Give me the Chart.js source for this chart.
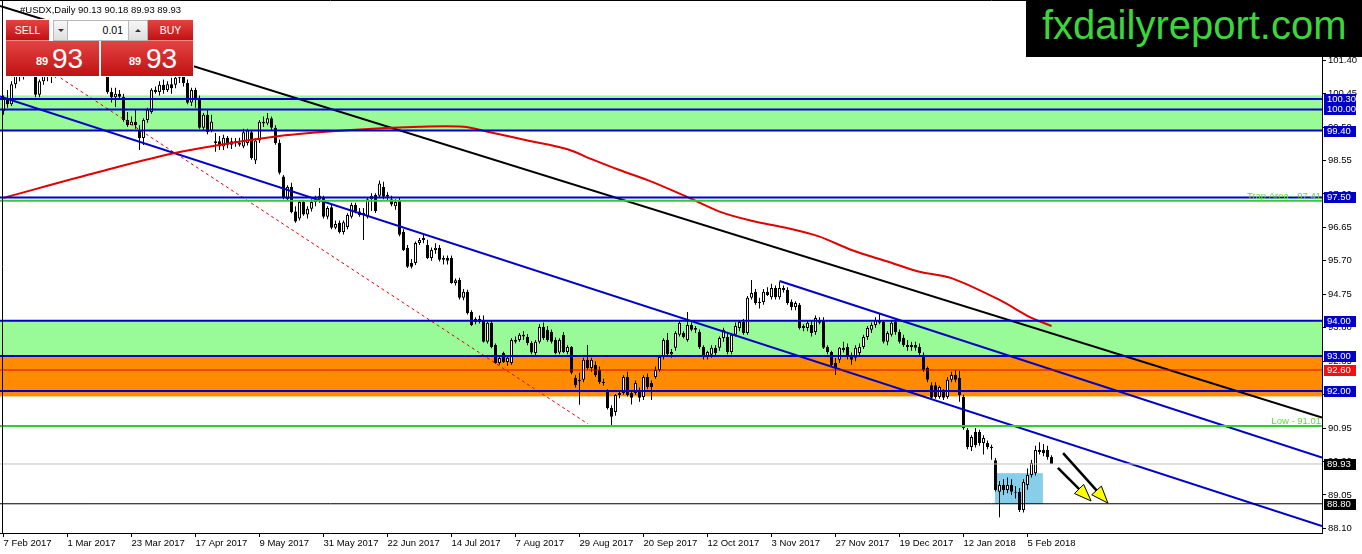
<!DOCTYPE html>
<html>
<head>
<meta charset="utf-8">
<script src="https://cdn.jsdelivr.net/npm/chart.js@4.4.1/dist/chart.umd.min.js"></script>
<style>
body{margin:0;background:#fff;overflow:hidden}
#wrap{position:relative;width:1362px;height:554px}
canvas{position:absolute;left:0;top:0}
.ov{position:absolute;font-family:'Liberation Sans',Arial,sans-serif;box-sizing:border-box}
#title{left:20px;top:4px;font-size:9.5px;line-height:11px;color:#000;white-space:pre}
#panelbg{left:5px;top:19px;width:189px;height:58px;background:#fff}
.red{background:linear-gradient(#e44343,#c01212);color:#fff}
#sell,#buy{top:20px;height:21px;font-size:10.5px;line-height:21px;text-align:center;border-bottom:1px solid rgba(255,255,255,.35)}
#sell{left:6px;width:43px}
#buy{left:148px;width:45px}
.arr{top:20px;height:21px;background:linear-gradient(#f7f7f7,#dedede);border:1px solid #b8b8b8}
#dn{left:53px;width:15px}
#up{left:128px;width:20px}
.tri{position:absolute;left:50%;top:8px;margin-left:-3px;width:0;height:0;border-left:3px solid transparent;border-right:3px solid transparent}
#dn .tri{border-top:3px solid #333}
#up .tri{border-bottom:3px solid #333}
#lot{left:68px;top:20px;width:60px;height:21px;background:#fff;border-top:1px solid #b8b8b8;border-bottom:1px solid #b8b8b8;font-size:10.5px;line-height:19px;text-align:right;padding-right:5px;color:#000}
.big{top:41px;height:35px}
#bl{left:6px;width:93px}
#br{left:101px;width:92px}
.s{position:absolute;top:15px;font-size:11px;line-height:11px;font-weight:bold}
.b{position:absolute;top:4px;font-size:28px;line-height:28px}
#logo{left:1026px;top:0;width:336px;height:57px;background:#000}
#logo span{position:absolute;left:16px;top:5px;font-size:40px;line-height:40px;color:#3cd63c;white-space:nowrap}
</style>
</head>
<body>
<div id="wrap">
<canvas id="c" width="1362" height="554"></canvas>
<div id="title" class="ov">#USDX,Daily 90.13 90.18 89.93 89.93</div>
<div id="panelbg" class="ov"></div>
<div id="sell" class="ov red">SELL</div>
<div id="dn" class="ov arr"><div class="tri"></div></div>
<div id="lot" class="ov">0.01</div>
<div id="up" class="ov arr"><div class="tri"></div></div>
<div id="buy" class="ov red">BUY</div>
<div id="bl" class="ov red big"><span class="s" style="left:30px">89</span><span class="b" style="left:46px">93</span></div>
<div id="br" class="ov red big"><span class="s" style="left:28px">89</span><span class="b" style="left:45px">93</span></div>
<div id="logo" class="ov"><span>fxdailyreport.com</span></div>
</div>
<script>
// ---- tick labels ----
const xTickIdx = [0,16,32,48,64,80,96,112,128,144,160,176,192,208,224,240,256];
const xTickLabels = ['7 Feb 2017','1 Mar 2017','23 Mar 2017','17 Apr 2017','9 May 2017','31 May 2017','22 Jun 2017','14 Jul 2017','7 Aug 2017','29 Aug 2017','20 Sep 2017','12 Oct 2017','3 Nov 2017','27 Nov 2017','19 Dec 2017','12 Jan 2018','5 Feb 2018'];
const yTickValues = [88.10,89.05,90.00,90.95,91.90,92.85,93.80,94.75,95.70,96.65,97.60,98.55,99.50,100.45,101.40,102.35];

// ---- daily OHLC (bar index 0 = 7 Feb 2017) ----
const opens = [
99.95,100.30,100.15,100.72,100.95,101.05,101.20,101.30,101.10,100.42,
100.80,101.10,100.95,101.18,101.50,101.45,101.85,102.05,101.95,101.55,
101.70,101.85,101.75,102.05,101.80,101.70,101.30,100.50,100.35,100.45,
100.36,99.70,99.56,99.65,99.42,99.19,99.70,99.93,100.56,100.50,
100.70,100.55,100.72,100.70,100.90,101.05,100.75,100.20,100.55,100.30,
99.48,99.85,99.40,99.05,99.10,98.95,99.20,99.00,99.10,99.05,
98.95,99.05,99.35,98.55,99.12,99.65,99.60,99.75,99.48,99.05,
98.10,97.45,97.80,97.10,96.90,97.37,97.02,97.18,97.37,97.45,
97.50,96.95,97.22,96.64,96.78,96.52,96.66,96.95,97.29,97.10,
97.00,96.95,97.45,97.57,97.55,97.80,97.52,97.45,97.25,97.43,
96.52,96.07,95.64,95.64,96.21,96.29,96.15,95.78,96.01,96.07,
95.73,95.78,95.78,95.07,95.16,94.65,94.82,94.25,93.96,94.05,
94.02,93.40,93.94,93.31,92.80,93.08,92.83,92.80,93.45,93.45,
93.60,93.54,93.37,93.08,93.40,93.82,93.74,93.68,93.45,93.10,
93.60,93.11,93.25,92.37,92.32,92.32,92.89,92.66,92.74,92.60,
92.26,91.98,91.52,91.41,91.89,91.95,92.40,91.95,91.95,91.98,
91.83,92.40,92.23,92.40,92.60,92.97,93.45,93.05,93.23,93.60,
93.65,93.45,93.88,93.74,93.68,93.25,92.97,93.03,93.23,93.23,
93.51,93.54,93.11,93.60,93.79,93.96,93.65,94.65,94.82,94.50,
94.53,94.82,94.67,94.93,94.67,94.93,94.87,94.53,94.39,94.45,
93.79,93.79,93.88,93.68,94.02,94.02,93.25,93.11,92.80,92.89,
93.23,93.25,93.03,92.95,93.08,93.25,93.54,93.74,93.88,94.02,
93.96,93.40,93.60,93.96,93.68,93.51,93.31,93.25,93.31,93.25,
93.03,92.66,92.17,92.17,91.83,91.98,91.83,92.32,92.46,92.37,
91.83,90.90,90.41,90.84,90.84,90.53,90.53,90.41,90.04,89.14,
89.33,89.19,89.33,89.14,89.14,88.62,89.33,89.62,89.67,90.33,
90.33,90.33,90.13];
const highs = [
100.40,100.55,100.80,101.10,101.25,101.35,101.40,101.50,101.25,100.85,
101.20,101.30,101.25,101.60,101.80,101.95,102.20,102.26,102.05,101.80,
102.00,102.10,102.20,102.15,101.95,101.85,101.40,100.62,100.62,100.55,
100.45,99.93,99.80,100.00,99.55,99.75,100.05,100.60,100.65,100.80,
100.85,100.80,100.90,101.00,101.20,101.15,100.85,100.62,100.62,100.40,
99.90,99.99,99.85,99.33,99.25,99.28,99.25,99.20,99.19,99.20,
99.45,99.45,99.40,99.18,99.70,99.80,99.90,99.80,99.55,99.15,
98.14,97.85,97.92,97.25,97.40,97.40,97.25,97.45,97.55,97.77,
97.55,97.25,97.30,96.85,96.85,96.85,97.05,97.35,97.35,97.20,
97.20,97.50,97.62,97.62,97.98,97.95,97.65,97.55,97.45,97.50,
96.60,96.15,95.75,96.25,96.35,96.45,96.30,96.08,96.20,96.15,
95.85,95.85,95.85,95.20,95.22,94.90,94.88,94.30,94.10,94.15,
94.15,93.98,94.02,93.35,93.00,93.12,92.97,93.50,93.55,93.65,
93.70,93.62,93.42,93.45,93.90,93.95,93.85,93.75,93.52,93.50,
93.68,93.30,93.28,92.45,92.52,92.95,93.31,92.95,92.85,92.70,
92.35,92.05,91.60,91.92,92.00,92.45,92.55,92.02,92.30,92.10,
92.45,92.50,92.30,92.70,93.00,93.50,93.65,93.20,93.70,94.00,
93.70,94.25,93.95,93.85,93.75,93.30,93.15,93.30,93.30,93.55,
93.80,93.65,93.65,93.95,94.02,94.05,94.70,95.16,94.90,94.65,
94.90,94.95,95.05,95.00,95.10,95.00,94.95,94.60,94.55,94.50,
93.90,94.00,94.00,94.15,94.10,94.10,93.30,93.15,92.94,93.25,
93.40,93.35,93.10,93.30,93.35,93.60,93.85,93.95,94.10,94.20,
94.02,93.70,94.00,94.05,93.75,93.60,93.45,93.40,93.40,93.35,
93.10,92.70,92.25,92.25,92.15,92.05,92.40,92.55,92.60,92.58,
91.90,90.95,90.75,90.95,90.90,90.75,90.60,90.48,90.10,89.45,
89.50,89.55,89.50,89.30,89.25,89.50,89.80,90.05,90.45,90.55,
90.50,90.45,90.18];
const lows = [
99.85,100.05,100.10,100.60,100.80,100.85,101.00,101.05,100.35,100.35,
100.70,100.80,100.75,100.90,101.30,101.40,101.70,101.80,101.40,101.25,
101.55,101.60,101.65,101.70,101.45,101.20,100.45,100.20,100.07,100.30,
99.65,99.50,99.55,99.45,98.85,98.99,99.62,99.88,100.45,100.40,
100.45,100.50,100.45,100.60,100.75,100.65,100.15,100.10,100.05,99.45,
99.40,99.30,99.35,98.80,98.85,98.85,98.90,98.88,98.94,98.95,
98.90,98.98,98.57,98.45,99.05,99.50,99.55,99.40,99.00,98.15,
97.45,97.40,97.05,96.78,96.85,96.98,96.90,97.10,97.25,97.35,
96.90,96.88,96.60,96.60,96.48,96.45,96.60,96.90,97.05,96.95,
96.29,96.90,97.12,97.06,97.50,97.45,97.40,97.25,97.15,96.40,
95.98,95.50,95.48,95.58,96.15,96.20,95.75,95.70,95.90,95.68,
95.60,95.60,95.05,95.00,94.60,94.58,94.18,93.85,93.90,93.92,
93.38,93.35,93.22,92.78,92.75,92.80,92.72,92.75,93.35,93.40,
93.45,93.30,93.05,93.02,93.35,93.45,93.40,93.35,93.05,93.05,
93.08,93.05,92.48,92.10,91.61,92.25,92.60,92.55,92.40,92.20,
92.15,91.48,91.01,91.30,91.80,91.90,91.85,91.62,91.90,91.70,
91.75,92.05,91.75,92.35,92.55,92.90,93.00,92.95,93.15,93.55,
93.50,93.40,93.70,93.65,93.20,92.90,92.90,92.95,93.00,93.15,
93.40,93.05,93.05,93.55,93.70,93.60,93.60,94.60,94.45,94.35,
94.45,94.70,94.60,94.60,94.60,94.80,94.45,94.30,94.30,93.75,
93.70,93.70,93.55,93.60,93.90,93.20,93.05,92.70,92.46,92.80,
93.10,92.90,92.75,92.85,93.00,93.20,93.45,93.65,93.80,93.90,
93.35,93.30,93.55,93.60,93.35,93.25,93.15,93.15,93.15,93.00,
92.55,92.25,91.75,91.78,91.78,91.75,91.78,92.25,92.25,91.70,
90.90,90.35,90.30,90.40,90.45,90.20,90.35,90.05,89.15,88.42,
89.05,89.10,89.05,88.95,88.57,88.55,89.20,89.55,89.60,90.20,
90.15,90.05,89.93];
const closes = [
100.30,100.15,100.72,100.95,101.05,101.20,101.30,101.15,100.42,100.80,
101.10,100.95,101.18,101.50,101.45,101.85,102.05,101.95,101.55,101.70,
101.85,101.75,102.05,101.80,101.70,101.30,100.50,100.35,100.45,100.36,
99.70,99.56,99.65,99.55,99.19,99.70,99.99,100.56,100.50,100.70,
100.55,100.72,100.60,100.90,101.05,100.75,100.19,100.55,100.30,99.48,
99.85,99.36,99.65,99.10,98.95,99.20,99.00,99.10,99.05,99.00,
99.35,99.40,98.62,99.12,99.65,99.60,99.75,99.48,99.05,98.20,
97.50,97.80,97.09,96.82,97.37,97.02,97.18,97.37,97.45,97.55,
96.95,97.20,96.64,96.75,96.52,96.80,97.00,97.29,97.10,97.00,
97.06,97.45,97.55,97.12,97.90,97.52,97.57,97.30,97.37,96.44,
96.01,95.53,95.53,96.21,96.29,96.35,95.78,96.01,96.07,95.73,
95.78,95.70,95.07,95.15,94.65,94.82,94.22,93.88,94.05,93.96,
93.40,93.94,93.25,92.80,92.94,92.83,92.95,93.45,93.40,93.60,
93.55,93.37,93.10,93.40,93.82,93.51,93.45,93.40,93.08,93.45,
93.11,93.25,92.52,92.17,92.28,92.89,92.66,92.89,92.46,92.26,
92.23,91.52,91.27,91.89,91.95,92.40,91.89,91.81,92.23,91.81,
92.40,92.12,92.12,92.60,92.97,93.45,93.05,93.11,93.65,93.94,
93.54,93.88,93.74,93.79,93.25,92.97,93.11,93.23,93.08,93.51,
93.74,93.11,93.60,93.85,93.96,93.65,94.65,94.79,94.50,94.53,
94.82,94.73,94.93,94.67,94.93,94.87,94.50,94.39,94.50,93.79,
93.85,93.94,93.65,94.08,93.94,93.23,93.11,92.74,92.66,93.23,
93.17,92.97,92.89,93.23,93.25,93.54,93.79,93.88,94.02,93.94,
93.40,93.65,93.94,93.68,93.40,93.31,93.25,93.31,93.23,93.08,
92.60,92.32,91.81,91.83,92.12,91.81,92.32,92.46,92.32,91.89,
90.95,90.41,90.70,90.47,90.53,90.67,90.41,90.38,89.19,89.33,
89.19,89.33,89.14,89.11,88.62,89.42,89.62,89.96,90.33,90.27,
90.24,90.13,89.93];

// ---- moving average (sampled) ----
const maIdx = [0,24,44,69,87,104,115,121,131,141,147,154,162,171,179,187,196,204,212,221,229,237,249,257,262];
const maVal = [97.49,98.23,98.79,99.25,99.42,99.51,99.51,99.37,99.12,98.87,98.59,98.28,97.95,97.51,97.10,96.84,96.63,96.39,96.01,95.68,95.39,95.21,94.59,94.08,93.85];

// ---- levels & zones ----
const blueLevels = [100.30,100.00,99.40,97.50,94.00,93.00,92.00];
const redLevel = 92.60;
const greenLevels = [97.41,91.01];
const greenLabels = ['Trap Area - 97.41','Low - 91.01'];
const currentPrice = 89.93;
const supportLevel = 88.80;
const zoneLow = [99.40,93.00,91.85];
const zoneHigh = [100.40,94.00,93.00];
const boxIdx = [247.85,259.85];
const boxVal = [88.80,89.67];

// ---- trend lines: black, blue lower, blue upper, red dashed ----
const trendFromIdx = [-0.875,-0.875,194,13];
const trendFromVal = [102.94,100.37,95.13,100.99];
const trendToIdx = [329.625,329.625,329.625,146.1];
const trendToVal = [91.25,88.17,90.11,91.07];

// ---- arrows ----
const arrowFromIdx = [264.9,263.6];
const arrowFromVal = [90.24,89.82];
const arrowToIdx = [276.1,271.9];
const arrowToVal = [88.82,88.88];

const X_MIN = -0.875, X_MAX = 329.625, Y_MIN = 87.97, Y_MAX = 103.11;
const BLUE = '#0000c8';
const FONT = "'Liberation Sans', Arial, sans-serif";

const wickData = opens.map((o,i)=>({x:i, y:[lows[i], highs[i]]}));
const bodyData = opens.map((o,i)=>({x:i, y:[o, closes[i]]}));

function hline(v, color, width){
  return {type:'line', data:[{x:X_MIN,y:v},{x:X_MAX,y:v}], borderColor:color, borderWidth:width, pointRadius:0, fill:false, order:0};
}
const datasets = [
  {type:'bar', data:wickData, backgroundColor:'#000', borderWidth:0, barThickness:1, grouped:false, order:3, inflateAmount:0},
  {type:'bar', data:bodyData, backgroundColor:(c)=> (c.dataIndex!==undefined && closes[c.dataIndex] >= opens[c.dataIndex]) ? '#ffffff' : '#000000',
   borderColor:'#000', borderWidth:1, borderSkipped:false, barThickness:3, minBarLength:1, grouped:false, order:2, inflateAmount:0}
];
datasets.push(hline(currentPrice,'#c0c0c0',1));
datasets.push(hline(supportLevel,'#000',1));
datasets.push(hline(redLevel,'#e00000',1));
greenLevels.forEach(v=>datasets.push(hline(v,'#32cd32',2)));
blueLevels.forEach(v=>datasets.push(hline(v,BLUE,2)));
datasets.push({type:'line', data:maIdx.map((ix,k)=>({x:ix,y:maVal[k]})), borderColor:'#e00000', borderWidth:2, pointRadius:0, fill:false, tension:0.3, order:0});
const trendStyles = [{c:'#000',w:2},{c:BLUE,w:2},{c:BLUE,w:2},{c:'#e00000',w:1,d:[3,3]}];
trendFromIdx.forEach((fi,k)=>{
  datasets.push({type:'line', data:[{x:fi,y:trendFromVal[k]},{x:trendToIdx[k],y:trendToVal[k]}],
    borderColor:trendStyles[k].c, borderWidth:trendStyles[k].w, borderDash:trendStyles[k].d||[], pointRadius:0, fill:false, order:0});
});

const backPlugin = {
  id:'back',
  beforeDatasetsDraw(chart){
    const {ctx, chartArea:a, scales:{x,y}} = chart;
    ctx.save();
    ctx.beginPath(); ctx.rect(a.left,a.top,a.right-a.left,a.bottom-a.top); ctx.clip();
    const zc = ['#98fb98','#98fb98','#ff8c00'];
    zoneLow.forEach((lo,k)=>{
      const t = y.getPixelForValue(zoneHigh[k]), b = y.getPixelForValue(lo);
      ctx.fillStyle = zc[k]; ctx.fillRect(a.left, t, a.right-a.left, b-t);
    });
    const bx1 = x.getPixelForValue(boxIdx[0]), bx2 = x.getPixelForValue(boxIdx[1]);
    const by1 = y.getPixelForValue(boxVal[1]), by2 = y.getPixelForValue(boxVal[0]);
    ctx.fillStyle = '#87ceeb'; ctx.fillRect(bx1, by1, bx2-bx1, by2-by1);
    ctx.restore();
  },
  afterDatasetsDraw(chart){
    const {ctx, chartArea:a, scales:{x,y}} = chart;
    ctx.save();
    // green level texts
    ctx.font = '9.5px '+FONT; ctx.fillStyle = '#5fe03c'; ctx.textAlign='right'; ctx.textBaseline='alphabetic';
    greenLevels.forEach((v,k)=>{ ctx.fillText(greenLabels[k], a.right-1, y.getPixelForValue(v)-2); });
    // arrows
    arrowFromIdx.forEach((fi,k)=>{
      const x0=x.getPixelForValue(fi), y0=y.getPixelForValue(arrowFromVal[k]);
      const x1=x.getPixelForValue(arrowToIdx[k]), y1=y.getPixelForValue(arrowToVal[k]);
      const ang=Math.atan2(y1-y0,x1-x0), L=17, W=6.5;
      const bx=x1-L*Math.cos(ang), by=y1-L*Math.sin(ang);
      ctx.strokeStyle='#000'; ctx.lineWidth=2.5;
      ctx.beginPath(); ctx.moveTo(x0,y0); ctx.lineTo(bx+3*Math.cos(ang),by+3*Math.sin(ang)); ctx.stroke();
      ctx.beginPath(); ctx.moveTo(x1,y1);
      ctx.lineTo(bx+W*Math.sin(ang), by-W*Math.cos(ang));
      ctx.lineTo(bx-W*Math.sin(ang), by+W*Math.cos(ang));
      ctx.closePath(); ctx.fillStyle='#ffff00'; ctx.fill(); ctx.lineWidth=1; ctx.stroke();
    });
    ctx.restore();
  },
  afterDraw(chart){
    const {ctx, chartArea:a, scales:{y}} = chart;
    ctx.save();
    ctx.strokeStyle='#000'; ctx.lineWidth=1;
    ctx.beginPath(); ctx.moveTo(2.5,0); ctx.lineTo(2.5,a.bottom); ctx.moveTo(0,0.5); ctx.lineTo(a.right,0.5); ctx.stroke();
    ctx.font='9.5px '+FONT; ctx.textAlign='left'; ctx.textBaseline='middle';
    const tag=(v,bg)=>{ const py=Math.round(y.getPixelForValue(v));
      ctx.fillStyle=bg; ctx.fillRect(a.right+2, py-5, 32, 11);
      ctx.fillStyle='#fff'; ctx.fillText(v.toFixed(2), a.right+5, py+0.5); };
    blueLevels.forEach(v=>tag(v,BLUE));
    tag(redLevel,'#f01010');
    tag(currentPrice,'#000');
    tag(supportLevel,'#000');
    ctx.restore();
  }
};

Chart.defaults.font.family = FONT;
Chart.defaults.font.size = 9.5;
Chart.defaults.color = '#000';

new Chart(document.getElementById('c'), {
  type:'bar',
  data:{datasets},
  options:{
    responsive:false, maintainAspectRatio:false, animation:false, devicePixelRatio:1,
    events:[],
    layout:{padding:0},
    plugins:{legend:{display:false}, tooltip:{enabled:false}, title:{display:false}},
    scales:{
      x:{type:'linear', min:X_MIN, max:X_MAX, offset:false, position:'bottom',
        grid:{display:true, drawOnChartArea:false, drawTicks:true, tickLength:4, color:'#000', offset:false},
        border:{display:true, color:'#000', width:1},
        ticks:{align:'start', padding:1, maxRotation:0, minRotation:0, autoSkip:false, color:'#000',
          callback:(v,i)=>xTickLabels[i]},
        afterBuildTicks:(s)=>{ s.ticks = xTickIdx.map(v=>({value:v})); },
        afterFit:(s)=>{ s.height = 21; s.paddingLeft=0; s.paddingRight=0; }
      },
      y:{type:'linear', position:'right', min:Y_MIN, max:Y_MAX,
        grid:{display:true, drawOnChartArea:false, drawTicks:true, tickLength:4, color:'#000'},
        border:{display:true, color:'#000', width:1},
        ticks:{padding:2, autoSkip:false, color:'#000', callback:(v)=>Number(v).toFixed(2)},
        afterBuildTicks:(s)=>{ s.ticks = yTickValues.map(v=>({value:v})); },
        afterFit:(s)=>{ s.width = 40; s.paddingTop=0; s.paddingBottom=0; }
      }
    }
  },
  plugins:[backPlugin]
});
</script>
</body>
</html>
